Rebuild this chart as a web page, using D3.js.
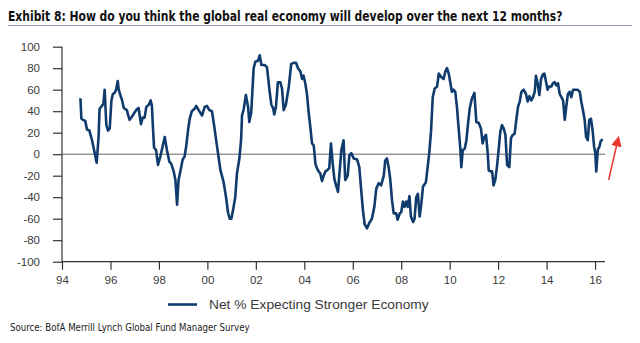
<!DOCTYPE html>
<html>
<head>
<meta charset="utf-8">
<script src="https://cdn.jsdelivr.net/npm/d3@7"></script>
<style>
    body { margin: 0; background: #fff; }
    svg { display: block; }
</style>
</head>
<body>
<div id="chart"></div>
<script>
// DATA, monthly-ish survey points
var years = [
    1994.76, 1994.80, 1994.87, 1994.96, 1995.03, 1995.13, 1995.24, 1995.35, 1995.43, 1995.51,
    1995.55, 1995.65, 1995.71, 1995.76, 1995.83, 1995.90, 1995.97, 1996.04, 1996.10, 1996.17,
    1996.23, 1996.30, 1996.34, 1996.41, 1996.48, 1996.55, 1996.61, 1996.68, 1996.72, 1996.79,
    1996.89, 1997.00, 1997.10, 1997.16, 1997.26, 1997.33, 1997.41, 1997.48, 1997.58, 1997.66,
    1997.71, 1997.76, 1997.80, 1997.88, 1997.96, 1998.06, 1998.15, 1998.24, 1998.33, 1998.43,
    1998.51, 1998.61, 1998.68, 1998.75, 1998.81, 1998.91, 1998.98, 1999.06, 1999.13, 1999.20,
    1999.27, 1999.36, 1999.46, 1999.54, 1999.64, 1999.78, 1999.89, 1999.98, 2000.08, 2000.19,
    2000.29, 2000.40, 2000.47, 2000.54, 2000.60, 2000.67, 2000.77, 2000.85, 2000.92, 2000.99,
    2001.06, 2001.15, 2001.22, 2001.32, 2001.39, 2001.43, 2001.50, 2001.59, 2001.68, 2001.73,
    2001.81, 2001.91, 2001.98, 2002.09, 2002.16, 2002.23, 2002.36, 2002.46, 2002.56, 2002.64,
    2002.71, 2002.76, 2002.83, 2002.91, 2003.01, 2003.08, 2003.15, 2003.24, 2003.36, 2003.46,
    2003.56, 2003.66, 2003.74, 2003.84, 2003.91, 2003.97, 2004.04, 2004.11, 2004.18, 2004.25,
    2004.32, 2004.39, 2004.46, 2004.52, 2004.59, 2004.66, 2004.73, 2004.80, 2004.87, 2004.94,
    2005.03, 2005.10, 2005.17, 2005.24, 2005.30, 2005.39, 2005.45, 2005.53, 2005.62, 2005.69,
    2005.79, 2005.86, 2005.94, 2006.04, 2006.18, 2006.27, 2006.35, 2006.42, 2006.49, 2006.59,
    2006.68, 2006.79, 2006.89, 2006.97, 2007.07, 2007.17, 2007.28, 2007.34, 2007.41, 2007.48,
    2007.55, 2007.62, 2007.69, 2007.79, 2007.85, 2007.94, 2008.00, 2008.07, 2008.14, 2008.21,
    2008.27, 2008.34, 2008.40, 2008.49, 2008.55, 2008.62, 2008.69, 2008.76, 2008.83, 2008.90,
    2009.02, 2009.09, 2009.16, 2009.23, 2009.30, 2009.38, 2009.48, 2009.55, 2009.64, 2009.75,
    2009.82, 2009.89, 2009.96, 2010.03, 2010.09, 2010.16, 2010.23, 2010.30, 2010.37, 2010.44,
    2010.48, 2010.54, 2010.62, 2010.69, 2010.76, 2010.83, 2010.92, 2011.02, 2011.10, 2011.20,
    2011.29, 2011.36, 2011.43, 2011.50, 2011.57, 2011.61, 2011.68, 2011.75, 2011.81, 2011.88,
    2011.95, 2012.02, 2012.09, 2012.16, 2012.23, 2012.30, 2012.37, 2012.46, 2012.53, 2012.60,
    2012.68, 2012.75, 2012.82, 2012.89, 2012.96, 2013.05, 2013.15, 2013.22, 2013.29, 2013.37,
    2013.44, 2013.51, 2013.56, 2013.63, 2013.70, 2013.77, 2013.84, 2013.91, 2013.98, 2014.04,
    2014.11, 2014.20, 2014.26, 2014.33, 2014.40, 2014.47, 2014.54, 2014.61, 2014.68, 2014.75,
    2014.81, 2014.88, 2014.95, 2015.02, 2015.09, 2015.19, 2015.28, 2015.37, 2015.43, 2015.50,
    2015.57, 2015.63, 2015.70, 2015.76, 2015.83, 2015.90, 2015.96, 2016.01, 2016.05, 2016.11,
    2016.18, 2016.23, 2016.31
];
var netStronger = [
    52, 33, 32, 31, 23, 22, 13, 1, -8, 16,
    42, 45, 47, 60, 27, 22, 24, 50, 56, 57,
    60, 68, 60, 55, 50, 43, 42, 41, 37, 32,
    35, 39, 42, 43, 28, 34, 34, 44, 46, 50,
    45, 22, 6, 4, -10, -2, 7, 16, 4, -7,
    -9, -16, -24, -47, -24, -13, -5, -2, 8, 22,
    33, 40, 42, 45, 41, 36, 44, 45, 41, 40,
    25, 7, -4, -15, -20, -26, -40, -54, -60, -60,
    -52, -40, -18, -4, 13, 36, 42, 55, 44, 30,
    39, 80, 86, 87, 92, 83, 83, 81, 60, 46,
    43, 37, 44, 67, 67, 61, 41, 46, 63, 84,
    85, 85, 80, 77, 70, 73, 66, 56, 39, 25,
    10, 8, -9, -13, -16, -18, -25, -20, -16, -15,
    -13, 10, -8, -23, -28, -35, -18, 4, 13, -24,
    -20, -1, 1, -4, -5, -12, -34, -52, -65, -69,
    -64, -60, -49, -32, -27, -29, -20, -6, -4, -12,
    -24, -43, -55, -55, -61, -55, -54, -44, -49, -44,
    -49, -39, -58, -63, -60, -40, -37, -58, -46, -30,
    -26, -12, 2, 21, 53, 61, 63, 75, 72, 70,
    77, 80, 75, 66, 58, 60, 58, 44, 24, 5,
    -12, 4, 5, 13, 29, 43, 52, 57, 30, 29,
    24, 10, 16, 18, 1, -15, -16, -16, -29, -24,
    -12, 4, 21, 27, 24, 18, -10, -12, 15, 18,
    19, 32, 44, 49, 58, 60, 56, 49, 54, 50,
    53, 58, 73, 66, 55, 70, 74, 75, 67, 60,
    63, 63, 66, 67, 64, 66, 56, 53, 50, 32,
    44, 56, 58, 53, 60, 60, 60, 58, 49, 41,
    32, 16, 13, 32, 33, 22, 7, 1, -16, 4,
    7, 12, 14
];
var xTicks = [1994, 1996, 1998, 2000, 2002, 2004, 2006, 2008, 2010, 2012, 2014, 2016];
var yTicks = [-100, -80, -60, -40, -20, 0, 20, 40, 60, 80, 100];
var seriesName = 'Net % Expecting Stronger Economy';
// red arrow next to the last point: [year, value] tail and head
var arrowFrom = [2016.56, -24];
var arrowTo = [2016.97, 16];

var titleText = 'Exhibit 8: How do you think the global real economy will develop over the next 12 months?';
var sourceText = 'Source: BofA Merrill Lynch Global Fund Manager Survey';

var W = 640, H = 343;
var navy = '#0f3c6c';
var condensed = '"DejaVu Sans Condensed", "Liberation Sans Narrow", "Liberation Sans", sans-serif';

var svg = d3.select('#chart').append('svg')
    .attr('width', W)
    .attr('height', H);

// squeeze a text sideways so it spans a given width (no textLength, real scale)
function fitWidth(sel, x0, yBase, w){
    var natural = sel.node().getComputedTextLength();
    var k = w / natural;
    sel.attr('x', 0).attr('y', 0)
        .attr('transform', 'translate(' + x0 + ',' + yBase + ') scale(' + k + ',1)');
}

// SCALES
var x = d3.scaleLinear().domain([1994, 2016.41]).range([62, 605]);
var y = d3.scaleLinear().domain([-100, 100]).range([261.7, 46.7]);

// title + rule under it
var title = svg.append('text')
    .style('font-family', condensed)
    .style('font-stretch', 'condensed')
    .style('font-weight', 'bold')
    .style('font-size', '14px')
    .style('fill', '#111')
    .text(titleText);
fitWidth(title, 8, 21, 555);

svg.append('line')
    .attr('x1', 8).attr('x2', 632)
    .attr('y1', 25.5).attr('y2', 25.5)
    .style('stroke', '#8f9cb3')
    .style('stroke-width', 1);

// AXES
var yAxis = d3.axisLeft(y)
    .tickValues(yTicks)
    .tickSize(9)
    .tickPadding(13)
    .tickFormat(function(d){ return String(d); });

var xAxis = d3.axisBottom(x)
    .tickValues(xTicks)
    .tickSize(8)
    .tickPadding(6)
    .tickFormat(function(d){ return String(d).slice(2); });

var gy = svg.append('g')
    .attr('transform', 'translate(' + x.range()[0] + ',0)')
    .call(yAxis);

var gx = svg.append('g')
    .attr('transform', 'translate(0,' + y(-100) + ')')
    .call(xAxis);

// make both axes look like the excel-ish original
[gy, gx].forEach(function(g){
    g.select('.domain').style('stroke', '#333').style('stroke-width', 1.2);
    g.selectAll('.tick line').style('stroke', '#333').style('stroke-width', 1.2);
    g.selectAll('.tick text')
        .style('font-family', '"Liberation Sans", Arial, sans-serif')
        .style('font-size', '11.5px')
        .style('fill', '#3a3a3a');
});
// no outer end ticks on the domains
gx.select('.domain').attr('d', 'M' + x.range()[0] + ',0H' + x.range()[1]);
gy.select('.domain').attr('d', 'M0,' + y.range()[0] + 'V' + y.range()[1]);

// zero line
svg.append('line')
    .attr('x1', x.range()[0]).attr('x2', x.range()[1])
    .attr('y1', y(0)).attr('y2', y(0))
    .style('stroke', '#666')
    .style('stroke-width', 1);

// the series
var pts = years.map(function(t, i){ return [t, netStronger[i]]; });
var line = d3.line()
    .x(function(d){ return x(d[0]); })
    .y(function(d){ return y(d[1]); });

svg.append('path')
    .datum(pts)
    .attr('d', line)
    .style('fill', 'none')
    .style('stroke', navy)
    .style('stroke-width', 2.6)
    .style('stroke-linejoin', 'round');

// red arrow
svg.append('defs').append('marker')
    .attr('id', 'head')
    .attr('viewBox', '0 0 10 10')
    .attr('refX', 9)
    .attr('refY', 5)
    .attr('markerWidth', 7)
    .attr('markerHeight', 7)
    .attr('markerUnits', 'strokeWidth')
    .attr('orient', 'auto')
    .append('path')
    .attr('d', 'M0,0L10,5L0,10Z')
    .style('fill', '#e8392f');

svg.append('line')
    .attr('x1', x(arrowFrom[0])).attr('y1', y(arrowFrom[1]))
    .attr('x2', x(arrowTo[0])).attr('y2', y(arrowTo[1]))
    .style('stroke', '#e8392f')
    .style('stroke-width', 1.5)
    .attr('marker-end', 'url(#head)');

// legend
var leg = svg.append('g');
leg.append('line')
    .attr('x1', 168).attr('x2', 197)
    .attr('y1', 304.5).attr('y2', 304.5)
    .style('stroke', navy)
    .style('stroke-width', 2.6);
var legText = leg.append('text')
    .style('font-family', '"Liberation Sans", Arial, sans-serif')
    .style('font-size', '12px')
    .style('fill', '#3a3a3a')
    .text(seriesName);
fitWidth(legText, 209, 308.5, 220);

// source line
var src = svg.append('text')
    .style('font-family', condensed)
    .style('font-stretch', 'condensed')
    .style('font-size', '10.5px')
    .style('fill', '#222')
    .text(sourceText);
fitWidth(src, 10, 331, 240);
</script>
</body>
</html>
